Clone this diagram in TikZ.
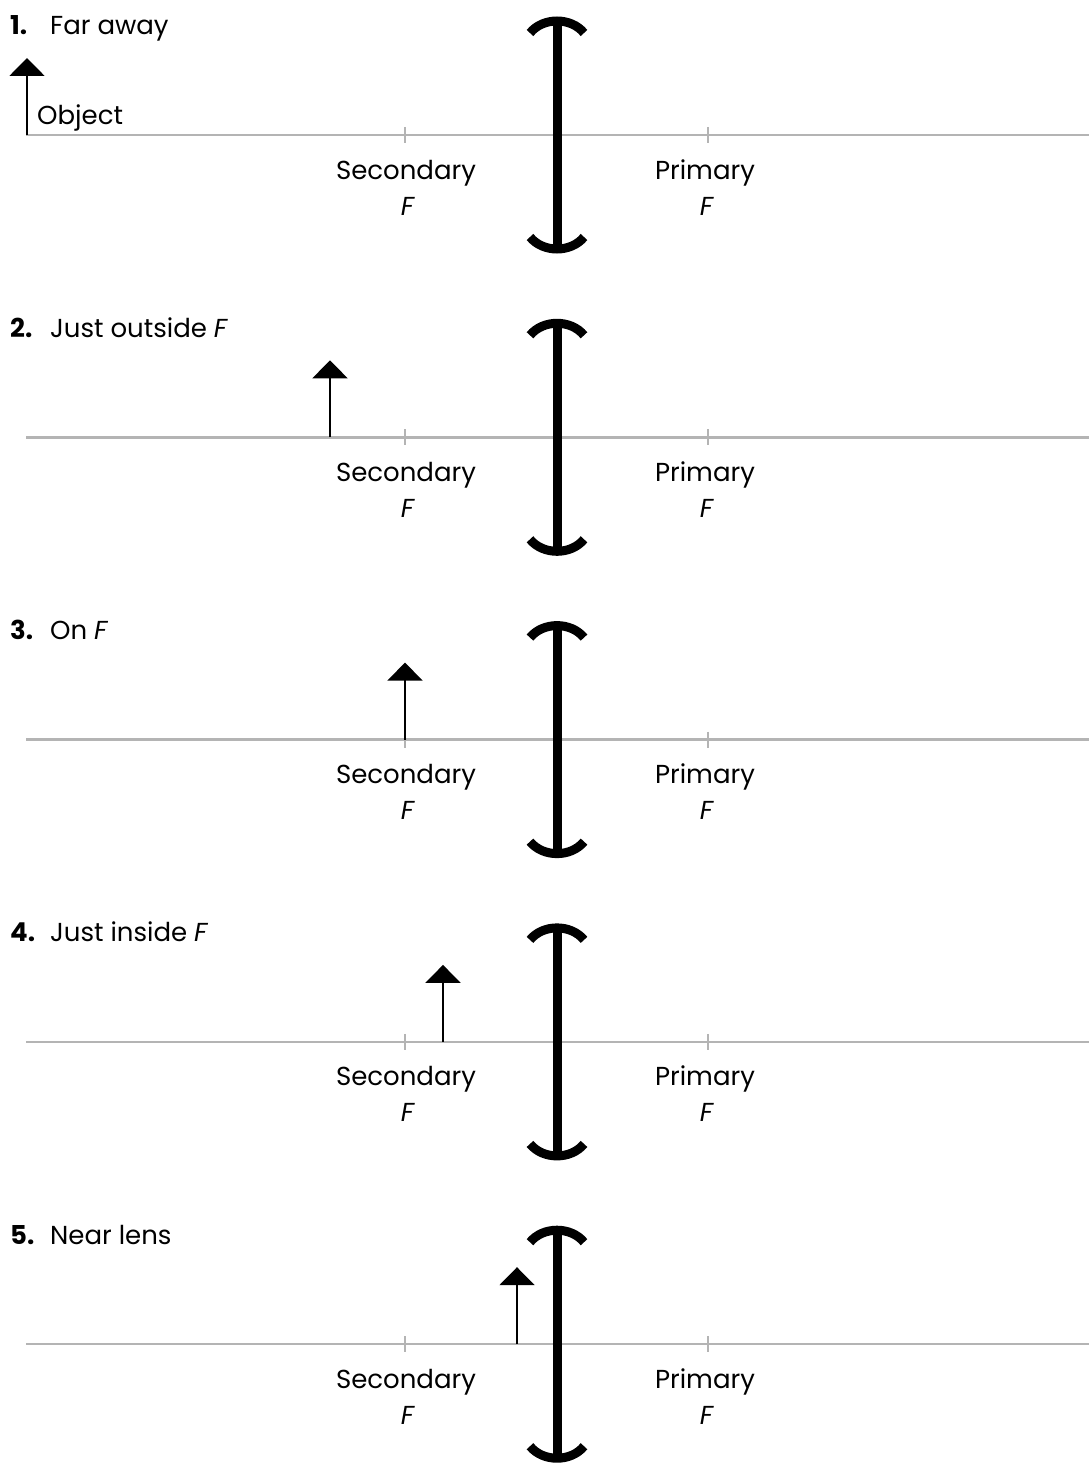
\documentclass[tikz,border=0pt]{standalone}
\usepackage{fontspec}
\setmainfont{Poppins}
\usetikzlibrary{arrows.meta}
\definecolor{axisgray}{HTML}{B4B4B4}
\begin{document}
\begin{tikzpicture}[x=1pt,y=-1pt,
 axisline/.style={draw=axisgray, line width=2.5pt},
 tickline/.style={draw=axisgray, line width=2pt},
 lensline/.style={draw=black, line width=9pt},
 objarrow/.style={draw=black, line width=2pt, -{Triangle[width=35pt,length=18pt]}},
 lbl/.style={font=\fontsize{26}{28}\selectfont, inner sep=0pt},
]
\useasboundingbox (0,0) rectangle (1089,1474);
\foreach \i/\ox/\ttl in {1/27/{Far away}, 2/330/{Just outside \textit{F}}, 3/405/{On \textit{F}}, 4/443/{Just inside \textit{F}}, 5/517/{Near lens}} {
  \pgfmathsetmacro{\ay}{135+(\i-1)*302.3}
  % axis
  \coordinate (axL\i) at (26,\ay);
  \coordinate (axR\i) at (1089,\ay);
  \draw[axisline] (axL\i) -- (axR\i);
  % ticks
  \coordinate (stT\i) at (405,\ay-8);
  \coordinate (stB\i) at (405,\ay+8);
  \coordinate (ptT\i) at (708,\ay-8);
  \coordinate (ptB\i) at (708,\ay+8);
  \draw[tickline] (stT\i) -- (stB\i);
  \draw[tickline] (ptT\i) -- (ptB\i);
  % labels
  \node[lbl, anchor=base west] (num\i) at (10,\ay-100) {\textbf{\i.}};
  \node[lbl, anchor=base west] (title\i) at (50,\ay-100) {\ttl};
  \node[lbl, anchor=base] (sec\i) at (406,\ay+44) {Secondary};
  \node[lbl, anchor=base] (secF\i) at (408,\ay+80) {\textit{F}};
  \node[lbl, anchor=base] (pri\i) at (705,\ay+44) {Primary};
  \node[lbl, anchor=base] (priF\i) at (707,\ay+80) {\textit{F}};
  % lens
  \coordinate (lensT\i) at (557,\ay-114);
  \coordinate (lensB\i) at (557,\ay+114);
  \draw[lensline] (lensT\i) -- (lensB\i);
  \draw[lensline] (530,\ay-102) .. controls (543,\ay-118) and (571,\ay-118) .. (584,\ay-102);
  \draw[lensline] (530,\ay+102) .. controls (543,\ay+118) and (571,\ay+118) .. (584,\ay+102);
  % object
  \coordinate (ob\i) at (\ox,\ay);
  \coordinate (ot\i) at (\ox,\ay-77);
  \draw[objarrow] (ob\i) -- (ot\i);
}
\node[lbl, anchor=base west] (objlbl) at (37,125) {Object};
\end{tikzpicture}
\end{document}
